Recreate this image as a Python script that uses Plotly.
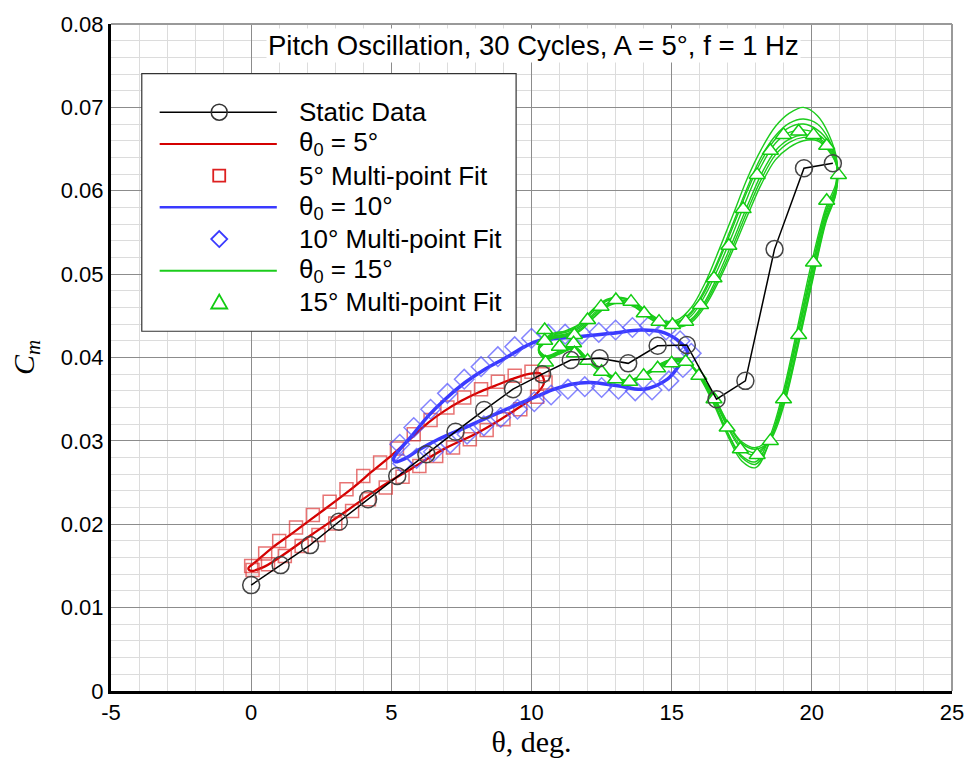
import plotly.graph_objects as go

# ---------------- data ----------------
static_theta = [0, 1.05, 2.1, 3.13, 4.17, 5.21, 6.25, 7.29, 8.31, 9.34, 10.38, 11.4, 12.43,
                13.45, 14.5, 15.54, 16.6, 17.63, 18.67, 19.72, 20.75]
static_cm = [0.0127, 0.0151, 0.0175, 0.0203, 0.0230, 0.0258, 0.0284, 0.0311, 0.0337, 0.0362,
             0.0380, 0.0397, 0.0399, 0.0393, 0.0414, 0.0415, 0.0350, 0.0372, 0.0530, 0.0627, 0.0633]

# theta0 = 5 deg loop
red_theta = [-0.1, 0.2, 0.76, 1.5, 2.18, 2.9, 3.6, 4.3, 5.02, 5.7, 6.32, 6.9, 7.5, 8.1, 8.69, 9.3, 9.88, 10.3,
             10.45, 10.11, 9.28, 8.1, 6.92, 5.73, 4.55, 3.36, 2.18, 1.0, 0.4, 0.0, -0.1]
red_cm = [0.0147, 0.0156, 0.0172, 0.0190, 0.0207, 0.0225, 0.0243, 0.0263, 0.0283, 0.0303, 0.0322, 0.0336, 0.0348,
          0.0358, 0.0366, 0.0374, 0.0380, 0.0381,
          0.0370, 0.0354, 0.0334, 0.0310, 0.0291, 0.0267, 0.0243, 0.0215, 0.0188, 0.0160, 0.0148, 0.0144, 0.0147]

red_fit_theta = [0.0, 0.5, 1.0, 1.6, 2.2, 2.8, 3.4, 4.0, 4.6, 5.2, 5.8, 6.4, 7.0, 7.6, 8.2, 8.8, 9.4, 10.0, 10.4,
                 10.5, 10.2, 9.6, 9.0, 8.4, 7.8, 7.2, 6.6, 6.0, 5.4, 4.8, 4.2, 3.6, 3.0, 2.4, 1.8, 1.2, 0.6, 0.05]
red_fit_cm = [0.0150, 0.0165, 0.0180, 0.0196, 0.0211, 0.0227, 0.0242, 0.0258, 0.0274, 0.0291, 0.0308, 0.0325,
              0.0340, 0.0352, 0.0362, 0.0371, 0.0378, 0.0383, 0.0380,
              0.0370, 0.0353, 0.0338, 0.0326, 0.0313, 0.0302, 0.0292, 0.0282, 0.0270, 0.0257, 0.0244, 0.0230,
              0.0216, 0.0201, 0.0187, 0.0174, 0.0162, 0.0152, 0.0145]

# theta0 = 10 deg loop
blue_theta = [5.08, 5.73, 6.32, 6.92, 7.63, 8.34, 9.05, 9.76, 10.23, 10.94, 11.65, 12.84, 13.9, 14.61, 15.2, 15.56,
              15.26, 14.85, 14.02, 13.07, 12.12, 11.42, 10.82, 10.23, 9.52, 8.57, 7.63, 6.68, 5.97, 5.5, 5.14, 5.08]
blue_cm = [0.0279, 0.0306, 0.0330, 0.0350, 0.0370, 0.0386, 0.0399, 0.0413, 0.0420, 0.0423, 0.0425, 0.0429, 0.0433,
           0.0431, 0.0421, 0.0407,
           0.0390, 0.0374, 0.0362, 0.0366, 0.0370, 0.0368, 0.0362, 0.0354, 0.0344, 0.0330, 0.0316, 0.0302, 0.0289,
           0.0279, 0.0275, 0.0279]

blue_fit_theta = [5.3, 5.8, 6.4, 7.0, 7.6, 8.2, 8.8, 9.4, 10.0, 10.6, 11.2, 11.8, 12.4, 13.0, 13.6, 14.2, 14.8, 15.3,
                  15.7, 15.4, 14.9, 14.3, 13.7, 13.1, 12.5, 11.9, 11.3, 10.7, 10.1, 9.5, 8.9, 8.3, 7.7, 7.1, 6.5,
                  5.9, 5.4]
blue_fit_cm = [0.0296, 0.0316, 0.0338, 0.0357, 0.0374, 0.0389, 0.0401, 0.0413, 0.0423, 0.0428, 0.0428, 0.0428,
               0.0430, 0.0433, 0.0436, 0.0438, 0.0433, 0.0420, 0.0405,
               0.0388, 0.0372, 0.0361, 0.0360, 0.0362, 0.0364, 0.0365, 0.0362, 0.0355, 0.0347, 0.0338, 0.0328,
               0.0318, 0.0308, 0.0297, 0.0287, 0.0279, 0.0273]

# theta0 = 15 deg loop, several of the 30 cycles (upper branch, then return branch)
green_theta = [10.25, 10.7, 11.2, 11.7, 12.2, 12.7, 13.2, 13.7, 14.2, 14.7, 15.2, 15.7, 16.2, 16.7, 17.2, 17.7,
               18.2, 18.7, 19.2, 19.7, 20.2, 20.6, 20.9,
               20.85, 20.5, 20.0, 19.5, 19.0, 18.5, 18.0, 17.5, 17.0, 16.5, 16.0, 15.5, 15.0, 14.5, 14.0, 13.5,
               13.0, 12.5, 12.0, 11.5, 11.0, 10.5, 10.25]
green_cycle_1 = [0.0410, 0.0425, 0.0428, 0.0435, 0.0452, 0.0465, 0.0469, 0.0463, 0.0450, 0.0441, 0.0440, 0.0450,
                 0.0475, 0.0510, 0.0550, 0.0592, 0.0630, 0.0657, 0.0670, 0.0673, 0.0668, 0.0655, 0.0630,
                 0.0600, 0.0570, 0.0500, 0.0425, 0.0352, 0.0302, 0.0283, 0.0290, 0.0316, 0.0350, 0.0378, 0.0396,
                 0.0396, 0.0389, 0.0379, 0.0372, 0.0375, 0.0384, 0.0397, 0.0412, 0.0406, 0.0400, 0.0410]
green_cycle_2 = [0.0412, 0.0428, 0.0432, 0.0440, 0.0458, 0.0470, 0.0472, 0.0466, 0.0453, 0.0444, 0.0445, 0.0460,
                 0.0490, 0.0530, 0.0572, 0.0615, 0.0650, 0.0677, 0.0693, 0.0700, 0.0690, 0.0668, 0.0635,
                 0.0608, 0.0580, 0.0515, 0.0438, 0.0362, 0.0305, 0.0275, 0.0282, 0.0310, 0.0347, 0.0377, 0.0397,
                 0.0398, 0.0391, 0.0380, 0.0373, 0.0376, 0.0386, 0.0399, 0.0414, 0.0408, 0.0402, 0.0412]
green_cycle_3 = [0.0408, 0.0422, 0.0425, 0.0431, 0.0447, 0.0461, 0.0466, 0.0460, 0.0447, 0.0438, 0.0436, 0.0442,
                 0.0462, 0.0493, 0.0530, 0.0570, 0.0608, 0.0637, 0.0652, 0.0660, 0.0660, 0.0648, 0.0628,
                 0.0595, 0.0562, 0.0488, 0.0412, 0.0342, 0.0300, 0.0290, 0.0297, 0.0321, 0.0353, 0.0379, 0.0395,
                 0.0394, 0.0387, 0.0377, 0.0370, 0.0373, 0.0382, 0.0395, 0.0410, 0.0404, 0.0398, 0.0408]
green_cycle_4 = [0.0411, 0.0426, 0.0430, 0.0437, 0.0455, 0.0468, 0.0471, 0.0465, 0.0452, 0.0443, 0.0443, 0.0455,
                 0.0483, 0.0520, 0.0562, 0.0604, 0.0641, 0.0666, 0.0681, 0.0686, 0.0680, 0.0662, 0.0633,
                 0.0604, 0.0576, 0.0508, 0.0432, 0.0357, 0.0300, 0.0268, 0.0276, 0.0306, 0.0344, 0.0376, 0.0396,
                 0.0397, 0.0390, 0.0379, 0.0372, 0.0375, 0.0385, 0.0398, 0.0413, 0.0407, 0.0401, 0.0411]
green_cycle_5 = [0.0409, 0.0424, 0.0427, 0.0433, 0.0450, 0.0463, 0.0467, 0.0461, 0.0448, 0.0440, 0.0438, 0.0446,
                 0.0468, 0.0502, 0.0541, 0.0582, 0.0620, 0.0648, 0.0662, 0.0667, 0.0664, 0.0652, 0.0629,
                 0.0598, 0.0566, 0.0494, 0.0418, 0.0347, 0.0302, 0.0286, 0.0293, 0.0318, 0.0351, 0.0378, 0.0396,
                 0.0395, 0.0388, 0.0378, 0.0371, 0.0374, 0.0383, 0.0396, 0.0411, 0.0405, 0.0399, 0.0409]
green_cycle_6 = [0.0410, 0.0427, 0.0431, 0.0439, 0.0457, 0.0469, 0.0471, 0.0464, 0.0451, 0.0442, 0.0442, 0.0453,
                 0.0480, 0.0517, 0.0558, 0.0600, 0.0636, 0.0662, 0.0676, 0.0680, 0.0673, 0.0658, 0.0631,
                 0.0602, 0.0574, 0.0504, 0.0428, 0.0355, 0.0299, 0.0272, 0.0280, 0.0309, 0.0346, 0.0377, 0.0396,
                 0.0396, 0.0389, 0.0379, 0.0372, 0.0375, 0.0384, 0.0397, 0.0412, 0.0406, 0.0400, 0.0410]
green_cycle_7 = [0.0409, 0.0423, 0.0426, 0.0432, 0.0448, 0.0462, 0.0467, 0.0461, 0.0448, 0.0439, 0.0437, 0.0444,
                 0.0465, 0.0497, 0.0535, 0.0576, 0.0614, 0.0643, 0.0658, 0.0664, 0.0662, 0.0650, 0.0628,
                 0.0596, 0.0564, 0.0491, 0.0415, 0.0345, 0.0304, 0.0292, 0.0299, 0.0322, 0.0354, 0.0380, 0.0395,
                 0.0395, 0.0388, 0.0378, 0.0371, 0.0374, 0.0383, 0.0396, 0.0411, 0.0405, 0.0399, 0.0409]
green_cycles = [green_cycle_1, green_cycle_2, green_cycle_3, green_cycle_4, green_cycle_5, green_cycle_6,
                green_cycle_7]

green_fit_theta = [10.47, 11.0, 11.53, 12.0, 12.48, 13.01, 13.55, 14.02, 14.55, 15.03, 15.5, 16.03, 16.51, 17.04,
                   17.55, 18.05, 18.52, 18.99, 19.53, 20.06, 20.53, 20.95,
                   20.53, 20.06, 19.53, 18.99, 18.52, 18.05, 17.45, 16.98, 16.51, 15.97, 15.5, 15.0, 14.5, 14.0,
                   13.5, 13.0, 12.5, 12.0, 11.5, 11.0, 10.5, 10.47, 11.53]
green_fit_cm = [0.0433, 0.0413, 0.0427, 0.0445, 0.0461, 0.0469, 0.0467, 0.0453, 0.0443, 0.0439, 0.0443, 0.0463,
                0.0495, 0.0534, 0.0578, 0.0619, 0.0648, 0.0667, 0.0671, 0.0667, 0.0654, 0.0619,
                0.0588, 0.0514, 0.0427, 0.0350, 0.0300, 0.0283, 0.0290, 0.0316, 0.0350, 0.0378, 0.0395, 0.0393,
                0.0387, 0.0378, 0.0371, 0.0374, 0.0383, 0.0396, 0.0417, 0.0413, 0.0394, 0.0420, 0.0405]

x_ticks = [-5, 0, 5, 10, 15, 20, 25]
y_ticks = [0, 0.01, 0.02, 0.03, 0.04, 0.05, 0.06, 0.07, 0.08]

legend_labels = ["Static Data", "θ<sub>0</sub> = 5°", "5° Multi-point Fit", "θ<sub>0</sub> = 10°",
                 "10° Multi-point Fit", "θ<sub>0</sub> = 15°", "15° Multi-point Fit"]

# ---------------- layout constants ----------------
W, H = 976, 765
ML, MR, MT, MB = 111, 18, 18, 74
# plot area in picture pixels (for placing the hand-made legend box)
REF_L, REF_R, REF_T, REF_B = ML, W - MR, MT, H - MB


def px(xp):
    return (xp - REF_L) / (REF_R - REF_L)


def py(yp):
    return (REF_B - yp) / (REF_B - REF_T)


RED = "#d40000"
BLUE = "#3a3aff"
GREEN = "#1ccc1c"
fig = go.Figure()

fig.add_trace(go.Scatter(x=red_theta, y=red_cm, mode="lines", line=dict(color=RED, width=2.3, shape="spline"),
                         name=legend_labels[1]))
fig.add_trace(go.Scatter(x=red_fit_theta, y=red_fit_cm, mode="markers",
                         marker=dict(symbol="square-open", size=13, color="rgba(220,40,40,0.65)", line=dict(width=1.5)),
                         name=legend_labels[2]))
fig.add_trace(go.Scatter(x=blue_theta, y=blue_cm, mode="lines", line=dict(color=BLUE, width=3.5, shape="spline"),
                         name=legend_labels[3]))
fig.add_trace(go.Scatter(x=blue_fit_theta, y=blue_fit_cm, mode="markers",
                         marker=dict(symbol="diamond-open", size=15, color="rgba(80,80,255,0.7)", line=dict(width=1.5)),
                         name=legend_labels[4]))
for i, cyc in enumerate(green_cycles):
    fig.add_trace(go.Scatter(x=green_theta, y=cyc, mode="lines",
                             line=dict(color=GREEN, width=1.4, shape="spline"),
                             name=legend_labels[5]))
fig.add_trace(go.Scatter(x=green_fit_theta, y=green_fit_cm, mode="markers",
                         marker=dict(symbol="triangle-up", size=14, color="white",
                                     line=dict(color="#11cc11", width=1.5)),
                         name=legend_labels[6]))
fig.add_trace(go.Scatter(x=static_theta, y=static_cm, mode="lines+markers",
                         line=dict(color="black", width=1.5),
                         marker=dict(symbol="circle-open", size=17, color="#444444", line=dict(width=1.5)),
                         name=legend_labels[0]))

# title box
fig.add_annotation(x=px(537), y=py(40), xref="paper", yref="paper",
                   text="Pitch Oscillation, 30 Cycles, A = 5°, f = 1 Hz",
                   showarrow=False, bgcolor="white", font=dict(family="Liberation Sans", size=27.5, color="black"),
                   xanchor="center", yanchor="middle")

# top/right frame lines
fig.add_shape(type="line", xref="paper", yref="paper", x0=0, x1=1, y0=1, y1=1, line=dict(color="#999999", width=2))
fig.add_shape(type="line", xref="paper", yref="paper", x0=1, x1=1, y0=0, y1=1, line=dict(color="#999999", width=2))

# ---- legend (hand-made so the row spacing matches) ----
fig.add_shape(type="rect", xref="paper", yref="paper", x0=px(142), x1=px(519), y0=py(328), y1=py(68),
              fillcolor="white", line=dict(color="#333333", width=1.2), layer="above")
rows = [107, 139, 171, 203, 235, 267, 299]
line_x0, line_x1, mark_x, text_x = px(160), px(278), px(220), px(298)
legend_line_styles = [("black", 1.5), (RED, 2), None, (BLUE, 2.5), None, (GREEN, 2), None]
for r, style in zip(rows, legend_line_styles):
    if style:
        fig.add_shape(type="line", xref="paper", yref="paper", x0=line_x0, x1=line_x1, y0=py(r), y1=py(r),
                      line=dict(color=style[0], width=style[1]), layer="above")
# marker samples (pixel-sized shapes anchored at the sample positions)
fig.add_shape(type="circle", xref="paper", yref="paper", xsizemode="pixel", ysizemode="pixel",
              xanchor=mark_x, yanchor=py(rows[0]), x0=-8, x1=8, y0=-8, y1=8,
              line=dict(color="#333333", width=1.5), layer="above")
fig.add_shape(type="rect", xref="paper", yref="paper", xsizemode="pixel", ysizemode="pixel",
              xanchor=mark_x, yanchor=py(rows[2]), x0=-6, x1=6, y0=-6, y1=6,
              line=dict(color="#dd2020", width=1.8), layer="above")
fig.add_shape(type="path", xref="paper", yref="paper", xsizemode="pixel", ysizemode="pixel",
              xanchor=mark_x, yanchor=py(rows[4]), path="M 0 -8 L 8 0 L 0 8 L -8 0 Z",
              line=dict(color="#3a3aff", width=1.8), layer="above")
fig.add_shape(type="path", xref="paper", yref="paper", xsizemode="pixel", ysizemode="pixel",
              xanchor=mark_x, yanchor=py(rows[6]), path="M -8 -6 L 8 -6 L 0 8 Z",
              line=dict(color="#11cc11", width=1.8), layer="above")
for r, lab in zip(rows, legend_labels):
    fig.add_annotation(x=text_x, y=py(r), xref="paper", yref="paper", text=lab, showarrow=False,
                       xanchor="left", yanchor="middle",
                       font=dict(family="Liberation Sans", size=26, color="black"))

fig.update_layout(
    width=W, height=H,
    margin=dict(l=ML, r=MR, t=MT, b=MB),
    paper_bgcolor="white", plot_bgcolor="white",
    font=dict(family="Liberation Sans", size=22, color="black"),
    showlegend=False,
    xaxis=dict(range=[-5, 25], tickvals=x_ticks, ticktext=[str(v) for v in x_ticks],
               showgrid=True, gridcolor="#8c8c8c", gridwidth=1,
               minor=dict(dtick=1, showgrid=True, gridcolor="#dcdcdc", gridwidth=1),
               showline=True, linecolor="black", linewidth=3, zeroline=False, ticks="",
               tickfont=dict(size=22),
               title=dict(text="θ, deg.", font=dict(family="Liberation Serif", size=30), standoff=6)),
    yaxis=dict(range=[0, 0.08], tickvals=y_ticks, ticktext=["0"] + ["%.2f" % v for v in y_ticks[1:]],
               showgrid=True, gridcolor="#8c8c8c", gridwidth=1,
               minor=dict(dtick=0.002, showgrid=True, gridcolor="#dcdcdc", gridwidth=1),
               showline=True, linecolor="black", linewidth=3, zeroline=False, ticks="",
               tickfont=dict(size=22),
               title=dict(text="<i>C<sub>m</sub></i>", font=dict(family="Liberation Serif", size=30), standoff=18)),
)

fig.write_html("out.html")
